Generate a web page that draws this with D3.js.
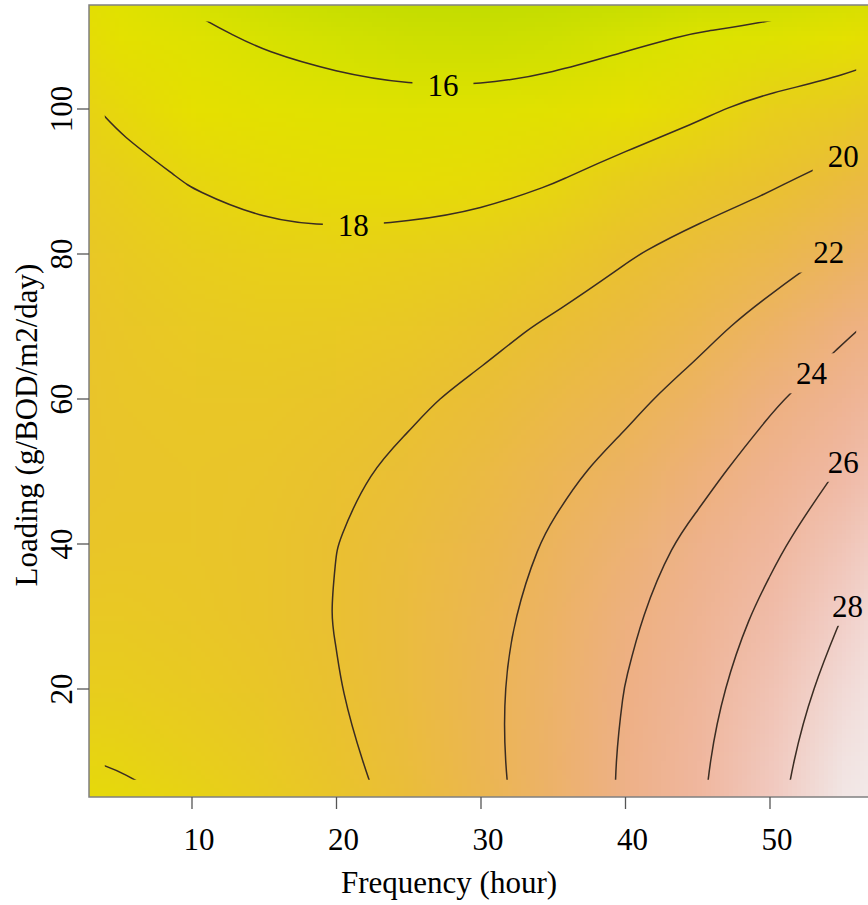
<!DOCTYPE html>
<html>
<head>
<meta charset="utf-8">
<script src="https://cdn.jsdelivr.net/npm/d3@7/dist/d3.min.js"></script>
<style>
  body { margin: 0; background: #fff; }
  .chart text { font-family: "Liberation Serif", "Times New Roman", serif; fill: #000; }
</style>
</head>
<body>
<div class="chart"></div>
<script>
// surface values (rows = loading, columns = frequency)
var frequency = [0, 5, 10, 15, 20, 25, 30, 35, 40, 45, 50, 55, 60];
var loading = [0, 10, 20, 30, 40, 50, 60, 70, 80, 90, 100, 110, 120];
var response = [
  [17.06, 17.37, 17.84, 18.48, 19.29, 20.27, 21.41, 22.73, 24.21, 25.86, 27.68, 29.67, 31.83],
  [17.88, 18.08, 18.45, 18.98, 19.69, 20.56, 21.60, 22.81, 24.19, 25.72, 27.40, 29.26, 31.29],
  [18.55, 18.64, 18.91, 19.34, 19.94, 20.71, 21.64, 22.75, 24.02, 25.43, 26.97, 28.70, 30.60],
  [19.07, 19.06, 19.22, 19.54, 20.04, 20.70, 21.53, 22.53, 23.70, 24.99, 26.39, 27.99, 29.75],
  [19.44, 19.32, 19.38, 19.60, 19.99, 20.54, 21.27, 22.17, 23.23, 24.40, 25.66, 27.13, 28.76],
  [19.66, 19.44, 19.39, 19.50, 19.79, 20.24, 20.86, 21.65, 22.45, 23.50, 24.78, 26.12, 27.63],
  [19.73, 19.41, 19.25, 19.26, 19.44, 19.79, 20.30, 20.99, 21.64, 22.57, 23.75, 24.96, 26.34],
  [19.65, 19.22, 18.96, 18.87, 18.94, 19.18, 19.59, 20.17, 20.77, 21.53, 22.57, 23.66, 24.90],
  [19.43, 18.89, 18.52, 18.32, 18.29, 18.43, 18.64, 19.11, 19.86, 20.55, 21.25, 22.19, 23.31],
  [19.05, 18.41, 17.94, 17.63, 17.50, 17.45, 17.58, 17.95, 18.56, 19.21, 19.77, 20.59, 21.57],
  [18.52, 17.78, 17.20, 16.79, 16.55, 16.40, 16.42, 16.69, 17.19, 17.72, 18.45, 18.83, 19.69],
  [17.85, 17.00, 16.31, 15.80, 15.45, 15.20, 15.12, 15.28, 15.68, 16.09, 16.37, 16.93, 17.65],
  [17.02, 16.07, 15.28, 14.66, 14.21, 13.85, 13.66, 13.72, 14.01, 14.30, 14.44, 14.87, 15.47]
];
// extent of the measured design (contours stop there)
var freqRange = [4.0, 56.0];
var loadRange = [7.4, 112.0];
var levels = [16, 18, 20, 22, 24, 26, 28];
var labelFreq = [27.4, 21.2, 55.1, 54.1, 52.9, 55.1, 55.4];
var xTicks = [10, 20, 30, 40, 50];
var yTicks = [20, 40, 60, 80, 100];

var width = 868, height = 905;
var plot = { left: 89, right: 880, top: 5, bottom: 797 };

var x = d3.scaleLinear().domain([10, 50]).range([191.5, 769.5]);
var y = d3.scaleLinear().domain([20, 100]).range([688.5, 108.5]);

// terrain-like palette
var colour = d3.scaleLinear()
    .domain([14, 16, 17.2, 18.5, 20, 22, 24, 26, 28, 30])
    .range(['#b8da00', '#dce300', '#e6e000', '#e8ce1c', '#eac032', '#ecb45a', '#eeb085', '#f0b8a2', '#f2cfc8', '#f2efef'])
    .clamp(true);

var svg = d3.select('.chart')
    .append('svg')
    .attr('width', width)
    .attr('height', height);

var defs = svg.append('defs');
defs.append('clipPath').attr('id', 'plot-clip')
    .append('rect')
    .attr('x', plot.left).attr('y', plot.top)
    .attr('width', plot.right - plot.left).attr('height', plot.bottom - plot.top);
defs.append('clipPath').attr('id', 'data-clip')
    .append('rect')
    .attr('x', x(freqRange[0])).attr('y', y(loadRange[1]))
    .attr('width', x(freqRange[1]) - x(freqRange[0]))
    .attr('height', y(loadRange[0]) - y(loadRange[1]));

// raster: one pixel per grid value, stretched by the browser
var nx = frequency.length, ny = loading.length;
var canvas = document.createElement('canvas');
canvas.width = nx;
canvas.height = ny;
var ctx = canvas.getContext('2d');
response.forEach(function (row, j) {
    row.forEach(function (v, i) {
        ctx.fillStyle = colour(v);
        ctx.fillRect(i, ny - 1 - j, 1, 1);
    });
});
var dF = frequency[1] - frequency[0], dL = loading[1] - loading[0];
svg.append('image')
    .attr('href', canvas.toDataURL())
    .attr('x', x(frequency[0] - dF / 2))
    .attr('y', y(loading[ny - 1] + dL / 2))
    .attr('width', x(frequency[nx - 1] + dF / 2) - x(frequency[0] - dF / 2))
    .attr('height', y(loading[0] - dL / 2) - y(loading[ny - 1] + dL / 2))
    .attr('preserveAspectRatio', 'none')
    .attr('clip-path', 'url(#plot-clip)');

// contour lines
var values = [].concat.apply([], response);
var gx = d3.scaleLinear().domain([0.5, nx - 0.5]).range([frequency[0], frequency[nx - 1]]);
var gy = d3.scaleLinear().domain([0.5, ny - 0.5]).range([loading[0], loading[ny - 1]]);
var bands = d3.contours().size([nx, ny]).thresholds(levels)(values);

function onFrame(p) {
    return p[0] === 0 || p[0] === nx || p[1] === 0 || p[1] === ny;
}

// cut the band rings where they run along the grid frame
function ringLines(ring) {
    var pts = ring.slice(0, ring.length - 1);
    var start = pts.findIndex(onFrame);
    if (start < 0) return [pts.concat([pts[0]])];
    var out = [], cur = [];
    for (var k = 1; k <= pts.length; k++) {
        var p = pts[(start + k) % pts.length];
        if (onFrame(p)) {
            if (cur.length > 1) out.push(cur);
            cur = [];
        } else {
            cur.push(p);
        }
    }
    return out;
}

var contourLines = bands.map(function (band) {
    var lines = [];
    band.coordinates.forEach(function (polygon) {
        polygon.forEach(function (ring) {
            ringLines(ring).forEach(function (line) {
                lines.push(line.map(function (p) { return [x(gx(p[0])), y(gy(p[1]))]; }));
            });
        });
    });
    return { value: band.value, lines: lines };
});

function crossAt(lines, px) {
    for (var m = 0; m < lines.length; m++) {
        var l = lines[m];
        for (var k = 1; k < l.length; k++) {
            var a = l[k - 1], b = l[k];
            if ((a[0] - px) * (b[0] - px) <= 0 && a[0] !== b[0]) {
                var t = (px - a[0]) / (b[0] - a[0]);
                return [px, a[1] + t * (b[1] - a[1])];
            }
        }
    }
    return null;
}

var mask = defs.append('mask').attr('id', 'label-gaps')
    .attr('maskUnits', 'userSpaceOnUse')
    .attr('x', 0).attr('y', 0).attr('width', width).attr('height', height);
mask.append('rect').attr('width', width).attr('height', height).attr('fill', '#fff');

var lineGen = d3.line().curve(d3.curveBasis);

var contourG = svg.append('g').attr('clip-path', 'url(#data-clip)')
    .append('g').attr('mask', 'url(#label-gaps)');

contourLines.forEach(function (c) {
    contourG.selectAll(null)
        .data(c.lines)
        .enter()
        .append('path')
        .attr('d', lineGen)
        .attr('fill', 'none')
        .attr('stroke', '#3a2c22')
        .attr('stroke-width', 1.5);
});

var labelG = svg.append('g');
contourLines.forEach(function (c, k) {
    var pos = crossAt(c.lines, x(labelFreq[k]));
    if (!pos) return;
    var t = labelG.append('text')
        .attr('x', pos[0])
        .attr('y', pos[1])
        .attr('dy', '0.35em')
        .attr('text-anchor', 'middle')
        .attr('font-size', 31)
        .text(c.value);
    var bb = t.node().getBBox();
    mask.append('rect')
        .attr('x', pos[0] - bb.width / 2 - 15)
        .attr('y', pos[1] - 20)
        .attr('width', bb.width + 30)
        .attr('height', 40)
        .attr('fill', '#000');
});

// frame
svg.append('rect')
    .attr('x', plot.left).attr('y', plot.top)
    .attr('width', plot.right - plot.left).attr('height', plot.bottom - plot.top)
    .attr('fill', 'none')
    .attr('stroke', '#808080')
    .attr('stroke-width', 1.5);

// axes
var xAxis = svg.append('g')
    .attr('transform', 'translate(0,' + plot.bottom + ')')
    .call(d3.axisBottom(x).tickValues(xTicks).tickSize(12).tickPadding(19).tickFormat(d3.format('d')));
xAxis.select('.domain').remove();
xAxis.attr('font-size', 31).attr('font-family', null);
xAxis.selectAll('line').attr('stroke', '#555').attr('stroke-width', 1.3);
xAxis.selectAll('text').attr('dx', 7);

var yAxis = svg.append('g')
    .attr('transform', 'translate(' + plot.left + ',0)')
    .call(d3.axisLeft(y).tickValues(yTicks).tickSize(12).tickFormat(d3.format('d')));
yAxis.select('.domain').remove();
yAxis.attr('font-size', 31).attr('font-family', null);
yAxis.selectAll('line').attr('stroke', '#555').attr('stroke-width', 1.3);
yAxis.selectAll('text')
    .attr('x', 0)
    .attr('dy', null)
    .attr('text-anchor', 'middle')
    .attr('transform', 'translate(-17,0) rotate(-90)');

svg.append('text')
    .attr('x', 449)
    .attr('y', 893)
    .attr('text-anchor', 'middle')
    .attr('font-size', 31)
    .text('Frequency (hour)');

svg.append('text')
    .attr('transform', 'translate(37,425) rotate(-90)')
    .attr('text-anchor', 'middle')
    .attr('font-size', 31)
    .text('Loading (g/BOD/m2/day)');
</script>
</body>
</html>
